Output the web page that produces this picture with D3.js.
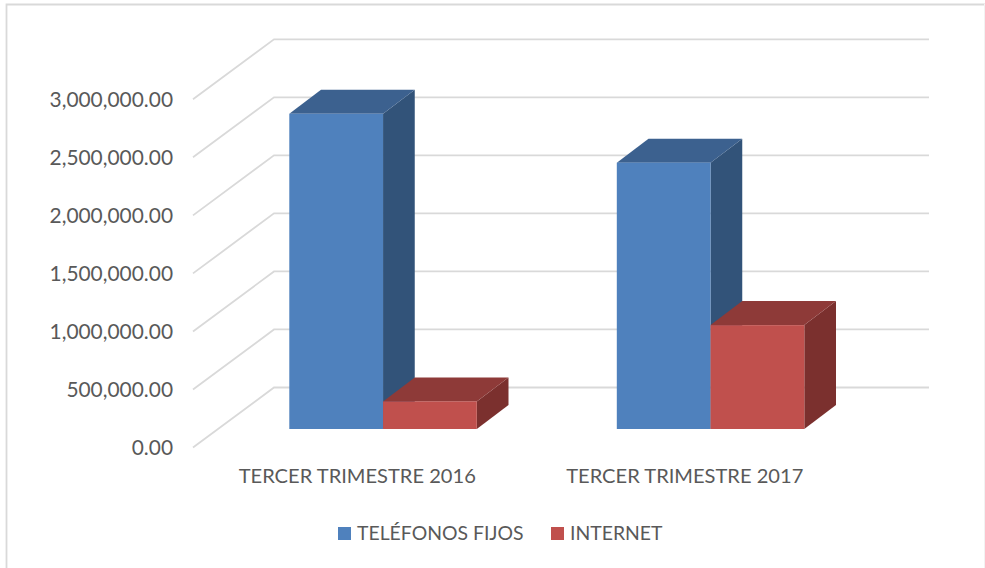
<!DOCTYPE html>
<html>
<head>
<meta charset="utf-8">
<script src="https://cdn.jsdelivr.net/npm/d3@7"></script>
<style>
  html, body { margin: 0; padding: 0; background: #fff; overflow: hidden; }
  text { font-family: Lato, "Open Sans", sans-serif; fill: #595959; }
</style>
</head>
<body>
<div id="chart"></div>
<script>
// --- Data ---
const categories = ["TERCER TRIMESTRE 2016", "TERCER TRIMESTRE 2017"];
const seriesNames = ["TELÉFONOS FIJOS", "INTERNET"];
const telefonosFijos = [2716000, 2295000];
const internet = [238000, 895000];
const yTicks = [0, 500000, 1000000, 1500000, 2000000, 2500000, 3000000];

// --- Config ---
const WIDTH = 985, HEIGHT = 568;
const FLOOR_LEFT = 193, FLOOR_RIGHT = 848;
const Y_ZERO = 447.5, Y_TOP = 99.3;
const WALL_DX = 81, WALL_DY = -60;      // depth of the chart floor
const BAR_SHIFT_X = 26.3, BAR_SHIFT_Y = -18.5; // bars sit part way back on the floor
const BAR_DX = 31.7, BAR_DY = -24;      // depth of one bar
const GRID = "#d9d9d9";

const faceColors = {
  "TELÉFONOS FIJOS": { front: "#4f81bd", top: "#3c618f", side: "#325379" },
  "INTERNET": { front: "#c0504d", top: "#8e3a38", side: "#7b302e" }
};

const svg = d3.select("#chart").append("svg")
  .attr("width", WIDTH)
  .attr("height", HEIGHT)
  .style("display", "block");

// --- Outer frame ---
svg.append("path")
  .attr("d", d3.line()([[6.5, HEIGHT], [6.5, 4.5], [WIDTH, 4.5]]))
  .attr("fill", "none")
  .attr("stroke", GRID)
  .attr("stroke-width", 1.8);
svg.append("line")
  .attr("x1", WIDTH - 0.5).attr("x2", WIDTH - 0.5)
  .attr("y1", 4).attr("y2", HEIGHT)
  .attr("stroke", "#f2f2f2");

// --- Scales ---
const x0 = d3.scaleBand().domain(categories).range([FLOOR_LEFT, FLOOR_RIGHT]);
const x1 = d3.scaleBand().domain(seriesNames).range([70, x0.bandwidth() - 70]);
const y = d3.scaleLinear().domain([0, 3000000]).range([Y_ZERO, Y_TOP]);

// --- Gridlines: diagonal on the side wall, then flat on the back wall ---
svg.append("g")
  .selectAll("path")
  .data(yTicks)
  .join("path")
  .attr("d", d => d3.line()([
    [FLOOR_LEFT, y(d)],
    [FLOOR_LEFT + WALL_DX, y(d) + WALL_DY],
    [FLOOR_RIGHT + WALL_DX, y(d) + WALL_DY]
  ]))
  .attr("fill", "none")
  .attr("stroke", GRID)
  .attr("stroke-width", 1.8);

// --- Axes ---
const yAxis = d3.axisLeft(y)
  .tickValues(yTicks)
  .tickSize(0)
  .tickPadding(20)
  .tickFormat(d3.format(",.2f"));

const yAxisGroup = svg.append("g")
  .attr("transform", `translate(${FLOOR_LEFT}, 0.5)`)
  .call(yAxis);
yAxisGroup.select(".domain").remove();
yAxisGroup.selectAll("text")
  .style("font-size", "20.9px")
  .style("font-family", "Lato, 'Open Sans', sans-serif")
  .attr("fill", "#595959");

const xAxis = d3.axisBottom(x0).tickSize(0).tickPadding(0);
const xAxisGroup = svg.append("g")
  .attr("transform", "translate(0.5, 469)")
  .call(xAxis);
xAxisGroup.select(".domain").remove();
xAxisGroup.selectAll("text")
  .style("font-size", "20.1px")
  .style("font-family", "Lato, 'Open Sans', sans-serif")
  .attr("fill", "#595959");

// --- Bars ---
const values = { "TELÉFONOS FIJOS": telefonosFijos, "INTERNET": internet };
const base = y(0) + BAR_SHIFT_Y;
const polygon = pts => d3.line()(pts) + "Z";

categories.forEach((cat, i) => {
  seriesNames.forEach(name => {
    const left = x0(cat) + x1(name) + BAR_SHIFT_X;
    const right = left + x1.bandwidth();
    const top = y(values[name][i]) + BAR_SHIFT_Y;
    const colors = faceColors[name];
    const bar = svg.append("g");

    bar.append("path")
      .attr("d", polygon([[right, top], [right + BAR_DX, top + BAR_DY], [right + BAR_DX, base + BAR_DY], [right, base]]))
      .attr("fill", colors.side);
    bar.append("path")
      .attr("d", polygon([[left, top], [left + BAR_DX, top + BAR_DY], [right + BAR_DX, top + BAR_DY], [right, top]]))
      .attr("fill", colors.top);
    bar.append("rect")
      .attr("x", left)
      .attr("y", top)
      .attr("width", x1.bandwidth())
      .attr("height", base - top)
      .attr("fill", colors.front);
  });
});

// --- Legend ---
const legendX = [338, 551];
const legend = svg.append("g");
seriesNames.forEach((name, i) => {
  legend.append("rect")
    .attr("x", legendX[i])
    .attr("y", 527)
    .attr("width", 13)
    .attr("height", 13)
    .attr("fill", faceColors[name].front);
  legend.append("text")
    .attr("x", legendX[i] + 19)
    .attr("y", 540)
    .style("font-size", "19.4px")
    .text(name);
});
</script>
</body>
</html>
